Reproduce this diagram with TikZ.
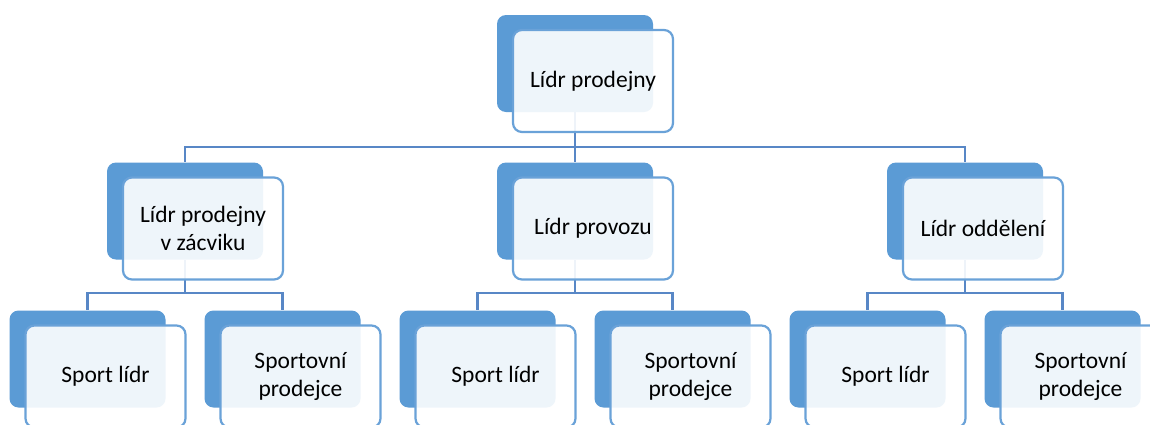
\documentclass[tikz,border=0pt]{standalone}
\usepackage{fontspec}
\setmainfont{Carlito}
\usetikzlibrary{positioning}
\definecolor{boxblue}{HTML}{5B9BD5}
\definecolor{edgeblue}{HTML}{6AA2D8}
\definecolor{linkblue}{HTML}{5887C6}
\tikzstyle{back} = [rectangle, rounded corners=9pt, minimum width=156pt, minimum height=97pt, fill=boxblue, inner sep=0pt]
\tikzstyle{front} = [rectangle, rounded corners=9pt, minimum width=160pt, minimum height=102pt, draw=edgeblue, line width=2.2pt, fill=white, fill opacity=0.9, text opacity=1, text=black, align=center, inner sep=0pt, font=\fontsize{23.5}{28}\selectfont]
\tikzstyle{link} = [draw=linkblue, line width=2.2pt]

\begin{document}
\begin{tikzpicture}[x=1pt, y=-1pt]
	\clip (0,0) rectangle (1150,424);
	\fill[white] (0,0) rectangle (1150,424);
	% back plates
	\node (leadb) [back] at (575,63.5) {};
	\node (trainb) [back] at (185,211) {};
	\node (opsb) [back] at (575,211) {};
	\node (deptb) [back] at (965,211) {};
	\node (s1b) [back] at (87.5,359) {};
	\node (p1b) [back] at (282.5,359) {};
	\node (s2b) [back] at (477.5,359) {};
	\node (p2b) [back] at (672.5,359) {};
	\node (s3b) [back] at (867.5,359) {};
	\node (p3b) [back] at (1062.5,359) {};
	% bus lines
	\coordinate (bus0) at (575,147);
	\coordinate (bus1) at (185,293);
	\coordinate (bus2) at (575,293);
	\coordinate (bus3) at (965,293);
	\draw [link] (leadb.south) -- (bus0) -| (trainb.north);
	\draw [link] (bus0) -- (opsb.north);
	\draw [link] (bus0) -| (deptb.north);
	\draw [link] (trainb.south) -- (bus1) -| (s1b.north);
	\draw [link] (bus1) -| (p1b.north);
	\draw [link] (opsb.south) -- (bus2) -| (s2b.north);
	\draw [link] (bus2) -| (p2b.north);
	\draw [link] (deptb.south) -- (bus3) -| (s3b.north);
	\draw [link] (bus3) -| (p3b.north);
	% front cards
	\node (lead) [front, xshift=18pt, yshift=-17.5pt] at (leadb) {Lídr prodejny};
	\node (train) [front, xshift=18pt, yshift=-17.5pt] at (trainb) {Lídr prodejny\\v zácviku};
	\node (ops) [front, xshift=18pt, yshift=-17.5pt] at (opsb) {Lídr provozu};
	\node (dept) [front, xshift=18pt, yshift=-17.5pt] at (deptb) {Lídr oddělení};
	\node (s1) [front, xshift=18pt, yshift=-17.5pt] at (s1b) {Sport lídr};
	\node (p1) [front, xshift=18pt, yshift=-17.5pt] at (p1b) {Sportovní\\prodejce};
	\node (s2) [front, xshift=18pt, yshift=-17.5pt] at (s2b) {Sport lídr};
	\node (p2) [front, xshift=18pt, yshift=-17.5pt] at (p2b) {Sportovní\\prodejce};
	\node (s3) [front, xshift=18pt, yshift=-17.5pt] at (s3b) {Sport lídr};
	\node (p3) [front, xshift=18pt, yshift=-17.5pt] at (p3b) {Sportovní\\prodejce};
\end{tikzpicture}
\end{document}
